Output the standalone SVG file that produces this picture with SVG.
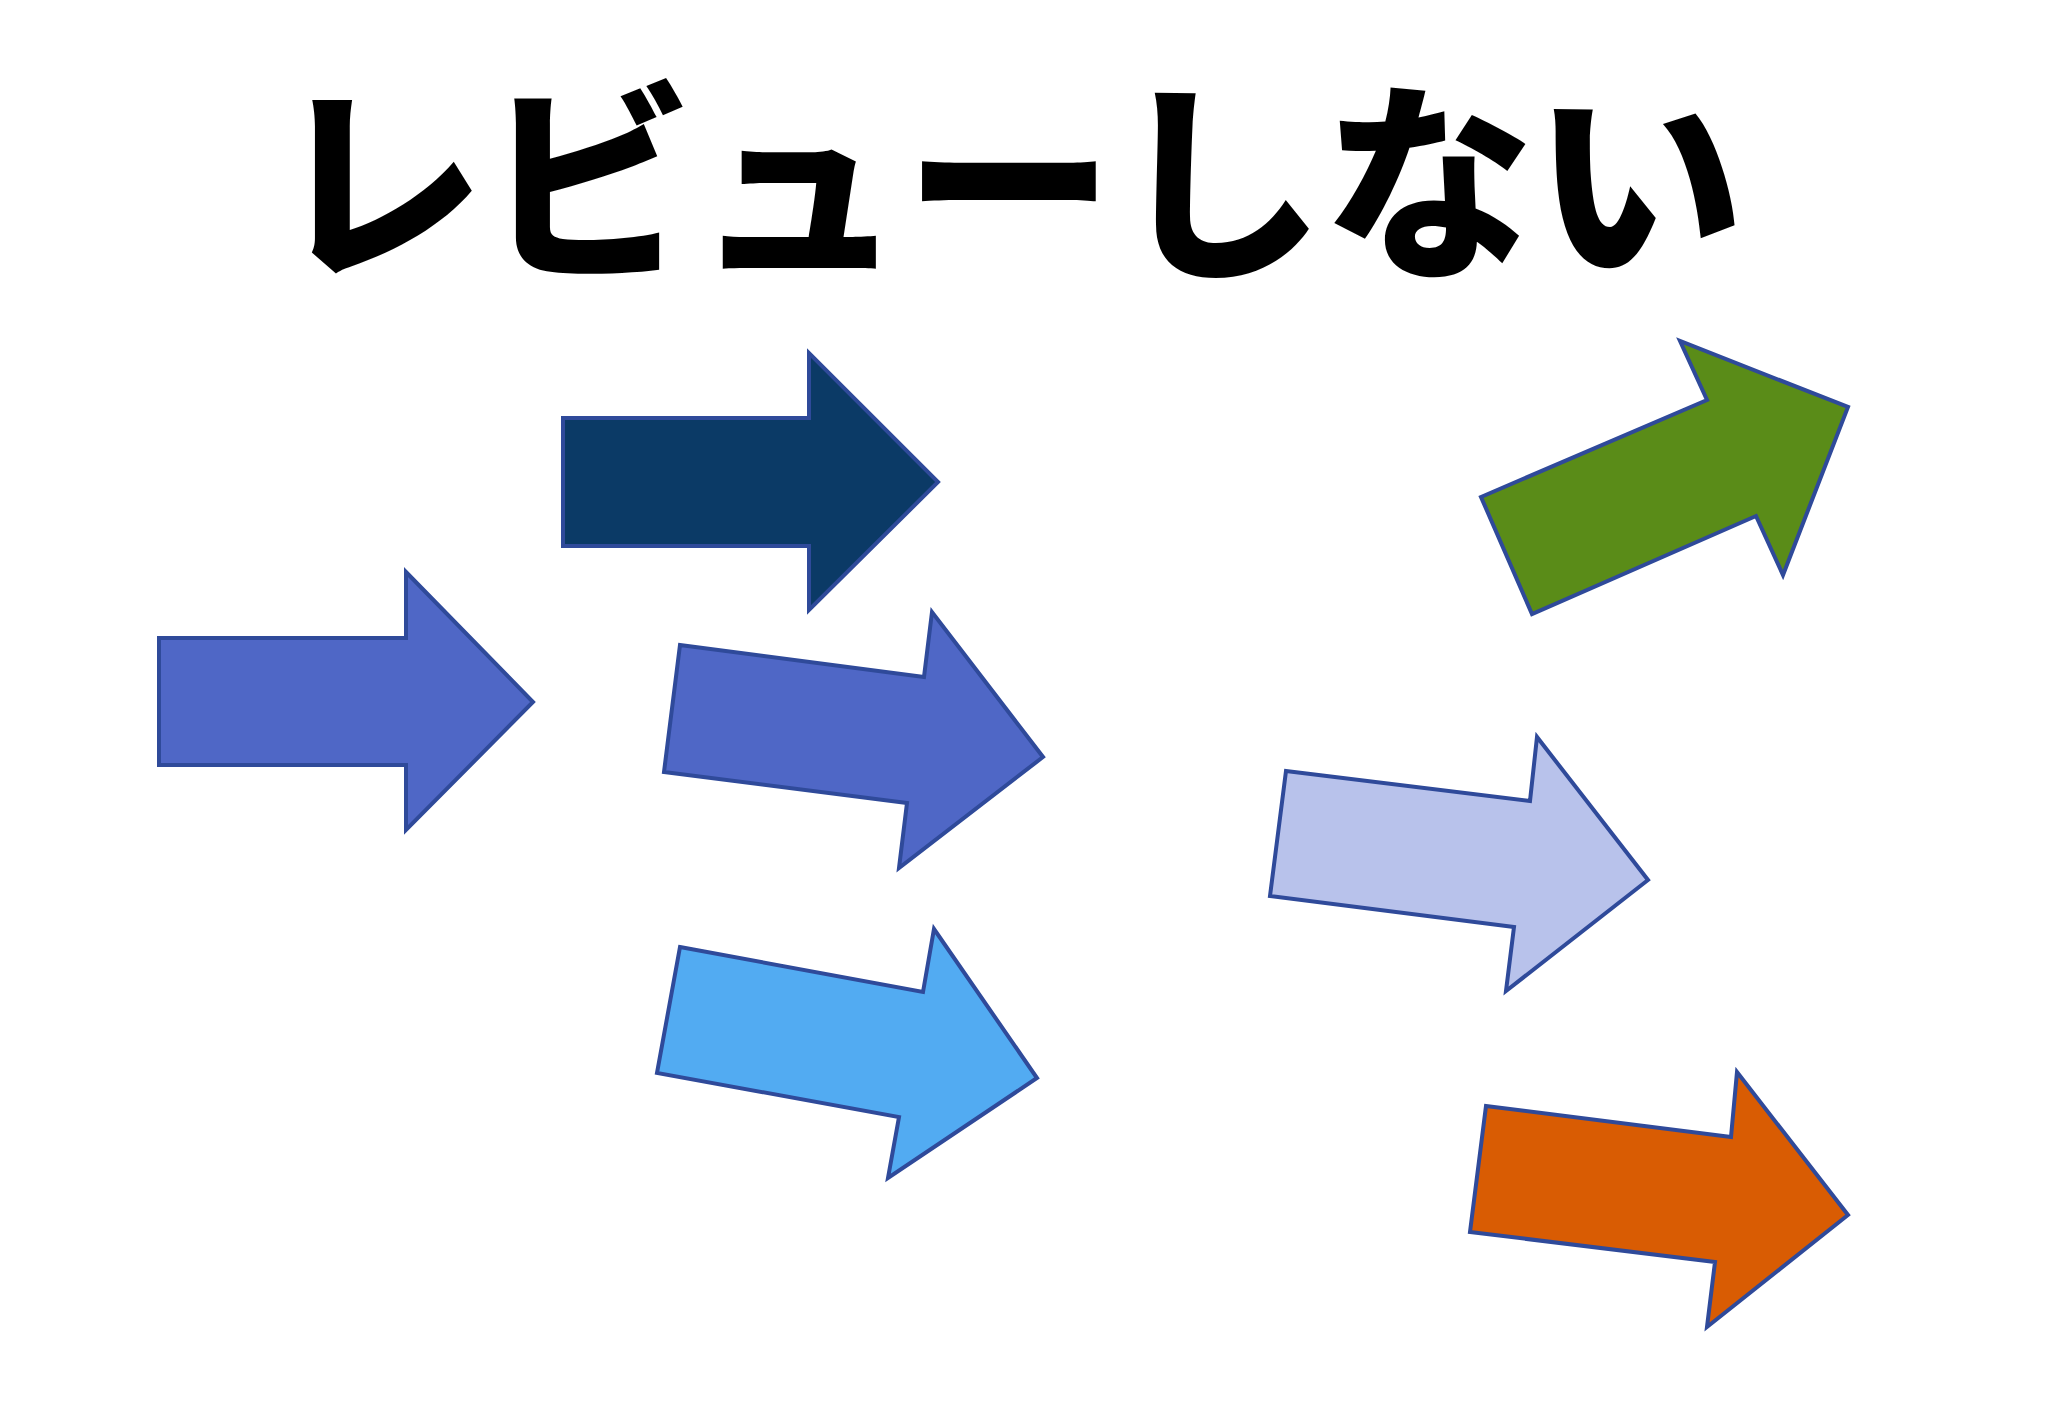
<svg xmlns="http://www.w3.org/2000/svg" width="2048" height="1418" viewBox="0 0 2048 1418">
<style>
.arrow{stroke:#2F4A9A;stroke-width:4;stroke-linejoin:miter}
.title{font-family:"Noto Sans CJK JP","Noto Sans",sans-serif;font-weight:900;font-size:210px;fill:#000}
</style>
<rect width="2048" height="1418" fill="#FFFFFF"/>
<g id="title"><text class="title" x="1009" y="262" text-anchor="middle">レビューしない</text></g>
<g id="arrow-left"><polygon class="arrow" fill="#4F67C6" points="159,638 406,638 406,572 533,702 406,830 406,765 159,765"/></g>
<g id="arrow-navy"><polygon class="arrow" fill="#0B3A66" points="563,418 809,418 809,353 938,482 809,610 809,546 563,546"/></g>
<g id="arrow-blue-tilt"><polygon class="arrow" fill="#4F67C6" points="680,645 924,677 932,612 1043,757 899,868 907,803 664,772"/></g>
<g id="arrow-lightblue"><polygon class="arrow" fill="#52ABF2" points="680,947 923,992 934,929 1037,1078 888,1178 899,1117 657,1073"/></g>
<g id="arrow-green"><polygon class="arrow" fill="#5A8C18" points="1481,497 1707,400 1680,341 1848,407 1783,575 1756,516 1532,614"/></g>
<g id="arrow-lavender"><polygon class="arrow" fill="#B8C2EB" points="1286,771 1530,801 1537,737 1648,880 1506,991 1514,927 1270,896"/></g>
<g id="arrow-orange"><polygon class="arrow" fill="#D95C03" points="1486,1106 1731,1137 1737,1072 1848,1215 1707,1327 1715,1262 1470,1232"/></g>
<g id="connectors"/>
</svg>
